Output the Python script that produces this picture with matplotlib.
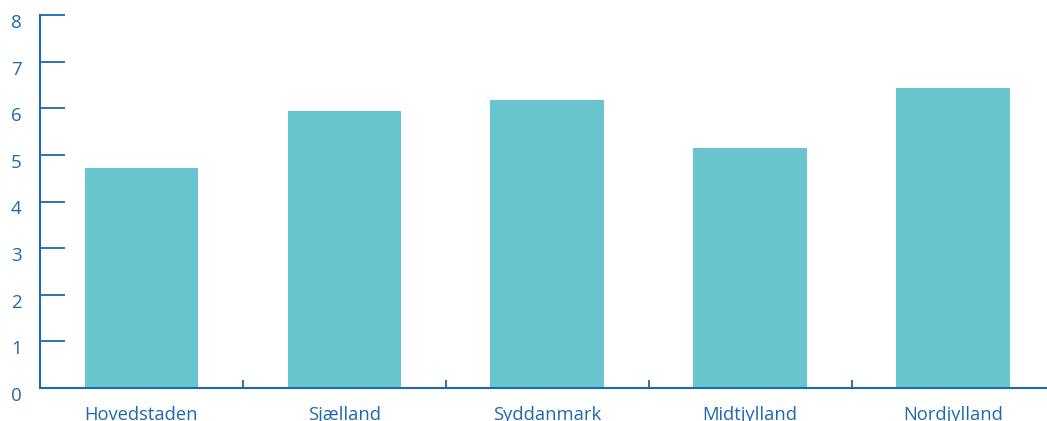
import matplotlib
matplotlib.use("Agg")
import matplotlib.pyplot as plt
import matplotlib.transforms as mtransforms
import numpy as np

regioner = ["Hovedstaden", "Sjælland", "Syddanmark", "Midtjylland", "Nordjylland"]
værdier = [4.72, 5.94, 6.18, 5.15, 6.44]
y_ticks = [0, 1, 2, 3, 4, 5, 6, 7, 8]

blå = "#1d69ae"
turkis = "#69c5cd"

plt.rcParams["font.family"] = ["Open Sans", "DejaVu Sans"]

fig = plt.figure(figsize=(10.47, 4.21), dpi=100)
ax = fig.add_axes([40 / 1047, 33 / 421, 1014.5 / 1047, 373 / 421])

x = np.arange(len(regioner))
ax.bar(x, værdier, width=0.56, color=turkis, zorder=2)

ax.set_xlim(-0.5, len(regioner) - 0.5)
ax.set_ylim(0, 8)

for side in ["top", "right"]:
    ax.spines[side].set_visible(False)
for side in ["left", "bottom"]:
    ax.spines[side].set_color(blå)
    ax.spines[side].set_linewidth(1.5)
    ax.spines[side].set_zorder(3)

# y-akse: ticks peger ind i plottet
ax.set_yticks(y_ticks)
ax.tick_params(axis="y", direction="in", length=18, width=1.3, color=blå,
               labelcolor=blå, labelsize=13.5, pad=17)

# x-akse: labels i midten, små ticks mellem søjlerne
ax.set_xticks(x)
ax.set_xticklabels(regioner)
ax.set_xticks(x[:-1] + 0.5, minor=True)
ax.tick_params(axis="x", which="major", length=0, labelcolor=blå,
               labelsize=13.2, pad=13)
ax.tick_params(axis="x", which="minor", direction="in", length=6,
               width=1.3, color=blå)

# y-labels lidt under deres ticks, centreret
offset = mtransforms.ScaledTranslation(0, -6 / 100, fig.dpi_scale_trans)
for tick in ax.yaxis.get_major_ticks():
    tick.label1.set_horizontalalignment("center")
    tick.label1.set_transform(tick.label1.get_transform() + offset)

fig.savefig("out.png", dpi=100)
